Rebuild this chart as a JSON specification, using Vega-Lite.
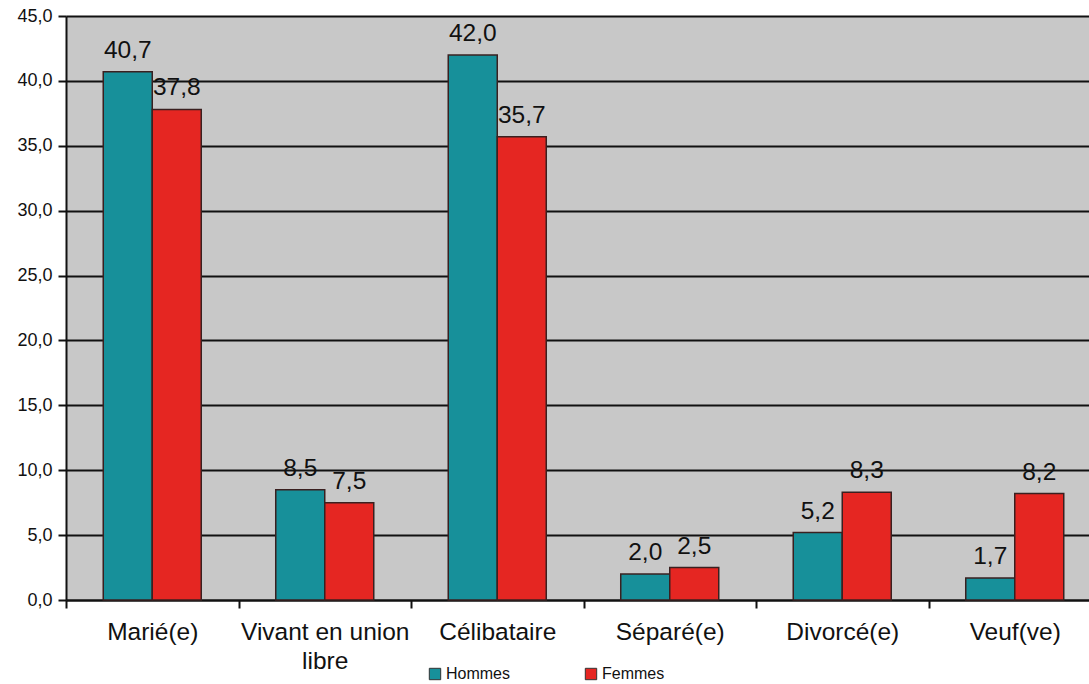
{
  "$schema": "https://vega.github.io/schema/vega-lite/v6.json",
  "width": 1023,
  "height": 584,
  "autosize": {"type": "none"},
  "padding": {"left": 66, "top": 16, "right": 0, "bottom": 84},
  "background": "white",
  "config": {
    "locale": {"number": {"decimal": ",", "thousands": " ", "grouping": [3], "currency": ["", " €"]}},
    "font": "Liberation Sans",
    "view": {"fill": "#c8c8c8", "stroke": null}
  },
  "data": {
    "values": [
      {"etat": "Marié(e)", "sexe": "Hommes", "valeur": 40.7},
      {"etat": "Marié(e)", "sexe": "Femmes", "valeur": 37.8},
      {"etat": "Vivant en union libre", "sexe": "Hommes", "valeur": 8.5},
      {"etat": "Vivant en union libre", "sexe": "Femmes", "valeur": 7.5},
      {"etat": "Célibataire", "sexe": "Hommes", "valeur": 42.0},
      {"etat": "Célibataire", "sexe": "Femmes", "valeur": 35.7},
      {"etat": "Séparé(e)", "sexe": "Hommes", "valeur": 2.0},
      {"etat": "Séparé(e)", "sexe": "Femmes", "valeur": 2.5},
      {"etat": "Divorcé(e)", "sexe": "Hommes", "valeur": 5.2},
      {"etat": "Divorcé(e)", "sexe": "Femmes", "valeur": 8.3},
      {"etat": "Veuf(ve)", "sexe": "Hommes", "valeur": 1.7},
      {"etat": "Veuf(ve)", "sexe": "Femmes", "valeur": 8.2}
    ]
  },
  "encoding": {
    "x": {
      "field": "etat",
      "type": "nominal",
      "sort": null,
      "title": null,
      "scale": {"range": [0, 1035], "paddingInner": 0, "paddingOuter": 0},
      "axis": {
        "labelAngle": 0,
        "labelFontSize": 24.5,
        "labelColor": "#111",
        "labelLimit": 300,
        "labelPadding": 12,
        "labelLineHeight": 29,
        "labelExpr": "datum.value == 'Vivant en union libre' ? ['Vivant en union', 'libre'] : datum.value",
        "tickBand": "extent",
        "tickSize": 8,
        "tickWidth": 2,
        "tickColor": "#111",
        "domainColor": "#111",
        "domainWidth": 2
      }
    },
    "xOffset": {
      "field": "sexe",
      "type": "nominal",
      "sort": ["Hommes", "Femmes"],
      "scale": {"paddingInner": 0, "paddingOuter": 0.76}
    },
    "y": {
      "field": "valeur",
      "type": "quantitative",
      "title": null,
      "scale": {"domain": [0, 45], "nice": false},
      "axis": {
        "values": [0, 5, 10, 15, 20, 25, 30, 35, 40, 45],
        "format": ".1f",
        "labelFontSize": 18,
        "labelColor": "#111",
        "labelPadding": 6,
        "tickSize": 8,
        "tickWidth": 2,
        "tickColor": "#111",
        "domainColor": "#111",
        "domainWidth": 2,
        "grid": true,
        "gridColor": "#111",
        "gridWidth": 2,
        "gridOpacity": 1
      }
    }
  },
  "layer": [
    {
      "mark": {"type": "bar", "stroke": "#3a2020", "strokeWidth": 1.5},
      "encoding": {
        "color": {
          "field": "sexe",
          "type": "nominal",
          "sort": ["Hommes", "Femmes"],
          "scale": {"domain": ["Hommes", "Femmes"], "range": ["#17909a", "#e52622"]},
          "legend": {
            "title": null,
            "orient": "none",
            "legendX": 361,
            "legendY": 650,
            "direction": "horizontal",
            "symbolType": "square",
            "symbolSize": 130,
            "symbolStrokeColor": "#333",
            "symbolStrokeWidth": 1,
            "labelFontSize": 16,
            "labelColor": "#111",
            "labelOffset": 3,
            "columnPadding": 72,
            "padding": 0
          }
        }
      }
    },
    {
      "mark": {"type": "text", "baseline": "alphabetic", "dy": -14, "fontSize": 24.5, "color": "#111"},
      "encoding": {
        "text": {"field": "valeur", "type": "quantitative", "format": ".1f"}
      }
    }
  ]
}
